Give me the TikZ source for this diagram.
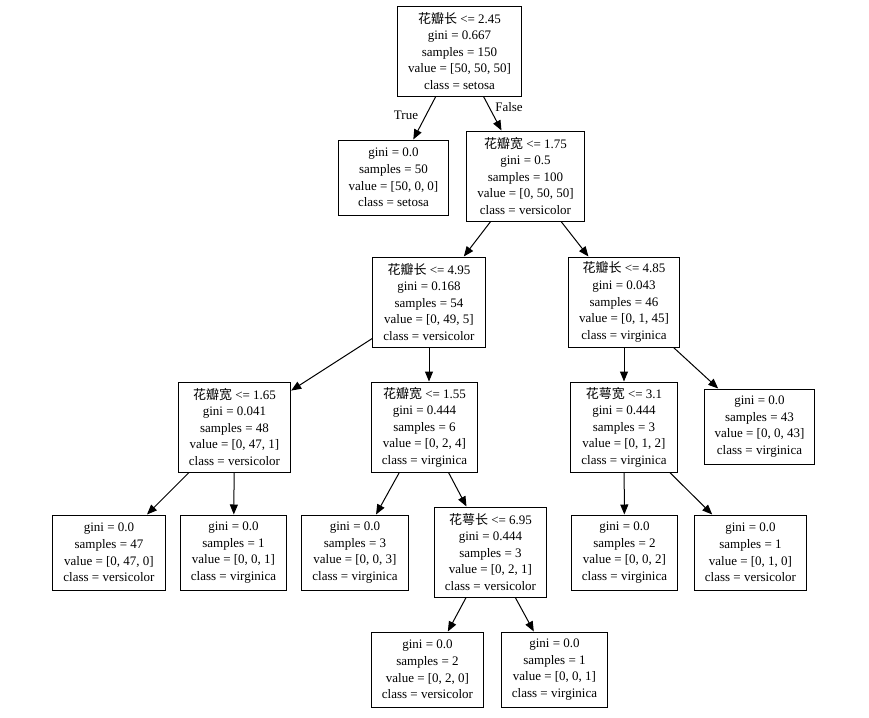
\documentclass[tikz,border=0pt]{standalone}
\usepackage{fontspec}
\setmainfont{Liberation Serif}
\newfontfamily\cjk{Noto Sans CJK SC}
\usetikzlibrary{arrows.meta}

\begin{document}
\begin{tikzpicture}[x=0.75pt,y=-0.75pt,
    split/.style={draw, line width=0.75pt, align=center, inner xsep=8pt, inner ysep=0pt,
      minimum height=67.5pt, font=\fontsize{9.75}{12.4}\selectfont},
    leaf/.style={split, minimum height=56.25pt},
    edge/.style={-{Triangle[length=7.5pt,width=6pt]}, line width=0.75pt},
    elabel/.style={font=\fontsize{9.75}{12.4}\selectfont, inner sep=0pt}]
  \useasboundingbox (0,0) rectangle (869,718);
  % depth 0 and 1
  \node[split] (root) at (459.5,51) {{\cjk 花瓣长} <= 2.45\\gini = 0.667\\samples = 150\\value = [50, 50, 50]\\class = setosa};
  \node[leaf] (setosa) at (393.5,177.5) {gini = 0.0\\samples = 50\\value = [50, 0, 0]\\class = setosa};
  \node[split] (pw175) at (525.5,176) {{\cjk 花瓣宽} <= 1.75\\gini = 0.5\\samples = 100\\value = [0, 50, 50]\\class = versicolor};
  % depth 2
  \node[split] (pl495) at (429,302) {{\cjk 花瓣长} <= 4.95\\gini = 0.168\\samples = 54\\value = [0, 49, 5]\\class = versicolor};
  \node[split] (pl485) at (624,302) {{\cjk 花瓣长} <= 4.85\\gini = 0.043\\samples = 46\\value = [0, 1, 45]\\class = virginica};
  % depth 3
  \node[split] (pw165) at (234.5,427) {{\cjk 花瓣宽} <= 1.65\\gini = 0.041\\samples = 48\\value = [0, 47, 1]\\class = versicolor};
  \node[split] (pw155) at (424.5,427) {{\cjk 花瓣宽} <= 1.55\\gini = 0.444\\samples = 6\\value = [0, 2, 4]\\class = virginica};
  \node[split] (sw31) at (624,427) {{\cjk 花萼宽} <= 3.1\\gini = 0.444\\samples = 3\\value = [0, 1, 2]\\class = virginica};
  \node[leaf] (virg43) at (759.5,426.5) {gini = 0.0\\samples = 43\\value = [0, 0, 43]\\class = virginica};
  % depth 4
  \node[leaf] (vers47) at (109,552.5) {gini = 0.0\\samples = 47\\value = [0, 47, 0]\\class = versicolor};
  \node[leaf] (virg1a) at (233.5,552.5) {gini = 0.0\\samples = 1\\value = [0, 0, 1]\\class = virginica};
  \node[leaf] (virg3) at (355,552.5) {gini = 0.0\\samples = 3\\value = [0, 0, 3]\\class = virginica};
  \node[split] (sl695) at (490.5,552) {{\cjk 花萼长} <= 6.95\\gini = 0.444\\samples = 3\\value = [0, 2, 1]\\class = versicolor};
  \node[leaf] (virg2) at (624.5,552.5) {gini = 0.0\\samples = 2\\value = [0, 0, 2]\\class = virginica};
  \node[leaf] (vers1a) at (750.5,552.5) {gini = 0.0\\samples = 1\\value = [0, 1, 0]\\class = versicolor};
  % depth 5
  \node[leaf] (vers2) at (427.5,669.5) {gini = 0.0\\samples = 2\\value = [0, 2, 0]\\class = versicolor};
  \node[leaf] (virg1b) at (554.5,669.5) {gini = 0.0\\samples = 1\\value = [0, 0, 1]\\class = virginica};
  % edges
  \foreach \a/\b in {root/setosa, root/pw175, pw175/pl495, pw175/pl485,
      pl495/pw165, pl485/sw31, pl485/virg43,
      pw165/vers47, pw165/virg1a, pw155/virg3, pw155/sl695,
      sw31/virg2, sw31/vers1a, sl695/vers2, sl695/virg1b}
    \draw[edge] (\a) -- (\b);
  \draw[edge] (pl495.south) -- (pl495.south |- pw155.north);
  \node[elabel] (true) at (406,115) {True};
  \node[elabel] (false) at (509,107) {False};
\end{tikzpicture}
\end{document}
